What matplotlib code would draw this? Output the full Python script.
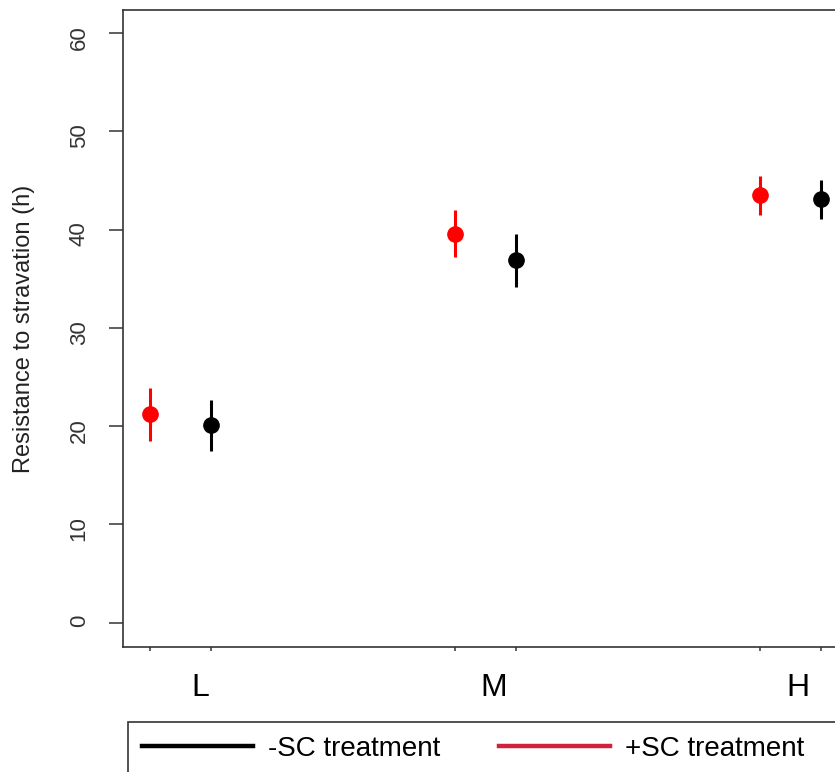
import numpy as np
import matplotlib
matplotlib.use("Agg")
from matplotlib import pyplot as plt
from matplotlib.lines import Line2D

plt.rcParams['font.family'] = ['Liberation Sans', 'DejaVu Sans']

# data
groups = ["L", "M", "H"]
group_pos = np.array([1.0, 2.0, 3.0])
offset = 0.2

plus_mean = [21.2, 39.6, 43.5]
plus_err = [2.7, 2.4, 2.0]
minus_mean = [20.1, 36.9, 43.1]
minus_err = [2.6, 2.7, 2.0]

label_pos = [1.164, 2.128, 3.125]
yticks = [0, 10, 20, 30, 40, 50, 60]

fig = plt.figure(figsize=(8.35, 7.72), dpi=100)
ax = fig.add_axes([123/835, 1-647.3/772, (850-123)/835, (647.3-10)/772])

ax.errorbar(group_pos, plus_mean, yerr=plus_err, fmt='o', color='#FF0000',
            ms=11, elinewidth=2.2, capsize=0)
ax.errorbar(group_pos + offset, minus_mean, yerr=minus_err, fmt='o', color='black',
            ms=11, elinewidth=2.2, capsize=0)

ax.set_xlim(0.9115, 3.295)
ax.set_ylim(-2.5, 62.35)

ax.set_yticks(yticks)
ax.set_xticks(np.concatenate([group_pos, group_pos + offset]))
ax.set_xticklabels([])
ax.tick_params(axis='y', length=10, width=1.1, pad=14, labelrotation=90,
               labelsize=16, color='#333333', labelcolor='#333333')
ax.tick_params(axis='x', length=3, width=1.1, color='#333333')
for s in ax.spines.values():
    s.set_color('#333333')
    s.set_linewidth(1.2)

ax.set_ylabel("Resistance to stravation (h)", fontsize=17, color='#222222', labelpad=24)

for x, g in zip(label_pos, groups):
    ax.text(x, -0.064, g, transform=ax.get_xaxis_transform(), ha='center', va='center',
            fontsize=23, color='black')

handles = [Line2D([], [], color='black', lw=3.2),
           Line2D([], [], color='#D0213F', lw=3.2)]
leg = fig.legend(handles, ["-SC treatment", "+SC treatment      "],
                 loc='upper left', bbox_to_anchor=(128/835, 1-722/772),
                 borderaxespad=0, ncol=2, fontsize=20, handlelength=4.0,
                 handletextpad=0.55, columnspacing=2.1, borderpad=0.5,
                 fancybox=False, edgecolor='#333333', framealpha=1)
leg.get_frame().set_linewidth(1.2)

fig.savefig("out.png", dpi=100)
